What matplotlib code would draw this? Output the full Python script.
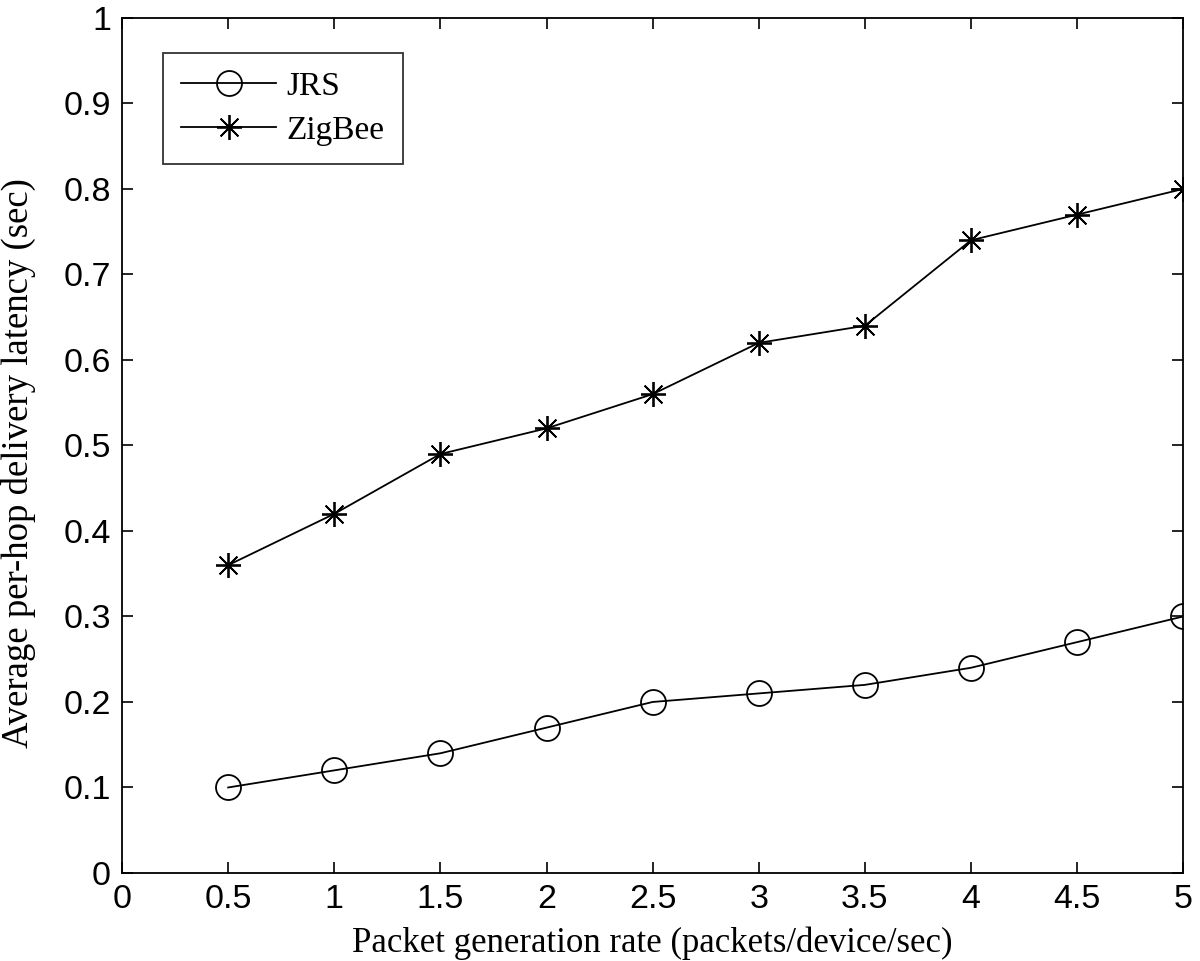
import matplotlib
matplotlib.use("Agg")
import matplotlib.pyplot as plt

rate = [0.5, 1, 1.5, 2, 2.5, 3, 3.5, 4, 4.5, 5]
jrs = [0.10, 0.12, 0.14, 0.17, 0.20, 0.21, 0.22, 0.24, 0.27, 0.30]
zigbee = [0.36, 0.42, 0.49, 0.52, 0.56, 0.62, 0.64, 0.74, 0.77, 0.80]
xticks = [0, 0.5, 1, 1.5, 2, 2.5, 3, 3.5, 4, 4.5, 5]
xticklabels = ["0", "0.5", "1", "1.5", "2", "2.5", "3", "3.5", "4", "4.5", "5"]
yticks = [0, 0.1, 0.2, 0.3, 0.4, 0.5, 0.6, 0.7, 0.8, 0.9, 1]
yticklabels = ["0", "0.1", "0.2", "0.3", "0.4", "0.5", "0.6", "0.7", "0.8", "0.9", "1"]

fig = plt.figure(figsize=(12, 9.61), dpi=100)
ax = fig.add_axes([0.1017, 0.0916, 0.8843, 0.8897])

ax.plot(rate, jrs, color="black", lw=1.3, marker="o", markersize=18,
        markerfacecolor="none", markeredgecolor="black", markeredgewidth=1.3, label="JRS")
ax.plot(rate, zigbee, color="black", lw=1.3, marker=(8, 2, 0), markersize=18,
        markeredgewidth=1.3, label="ZigBee")

ax.set_xlim(0, 5)
ax.set_ylim(0, 1)
ax.set_xticks(xticks)
ax.set_xticklabels(xticklabels, family="Liberation Sans", fontsize=24.5)
ax.set_yticks(yticks)
ax.set_yticklabels(yticklabels, family="Liberation Sans", fontsize=24.5)
ax.tick_params(axis="x", direction="in", top=True, length=8, width=1.2, pad=8)
ax.tick_params(axis="y", direction="in", right=True, length=8, width=1.2, pad=8)
for s in ax.spines.values():
    s.set_linewidth(1.3)

ax.set_xlabel("Packet generation rate (packets/device/sec)", family="Liberation Serif", fontsize=25, labelpad=8)
ax.set_ylabel("Average per-hop delivery latency (sec)", family="Liberation Serif", fontsize=26.5)
ax.yaxis.set_label_coords(-0.081, 0.48)

leg = ax.legend(loc="upper left", bbox_to_anchor=(0.0386, 0.959), prop={"family": "Liberation Serif", "size": 24},
                frameon=True, fancybox=False, edgecolor="black", handlelength=2.85, borderpad=0.55,
                labelspacing=0.41, handletextpad=0.3, borderaxespad=0)
leg.get_frame().set_linewidth(1.3)

fig.savefig("out.png", dpi=100)
